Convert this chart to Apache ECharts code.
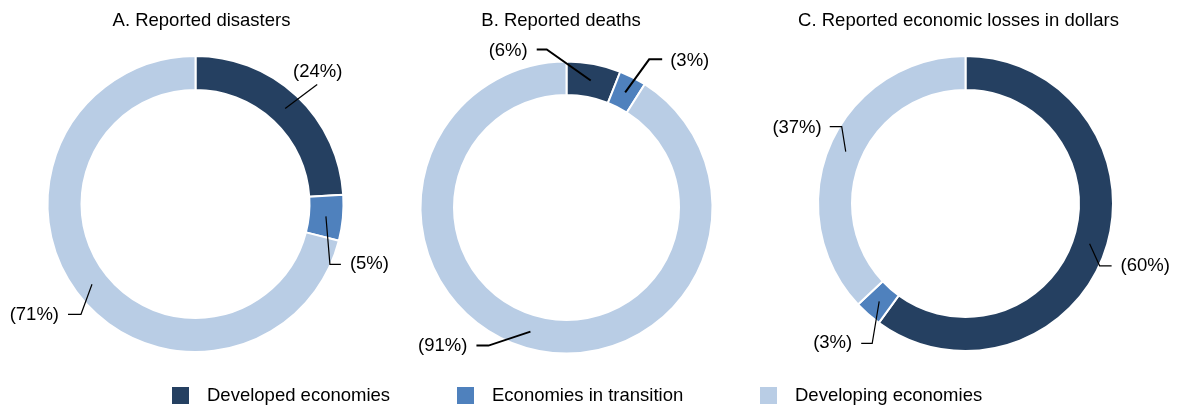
<!DOCTYPE html>
<html>
<head>
<meta charset="utf-8">
<script src="https://cdn.jsdelivr.net/npm/echarts@6/dist/echarts.min.js"></script>
<style>
html, body { margin: 0; padding: 0; background: #fff; }
#chart { width: 1177px; height: 405px; }
</style>
</head>
<body>
<div id="chart"></div>
<script>
// data (percent shares)
var categories = ['Developed economies', 'Economies in transition', 'Developing economies'];
var titles = ['A. Reported disasters', 'B. Reported deaths', 'C. Reported economic losses in dollars'];
var disasters = [24, 5, 71];
var deaths = [6, 3, 91];
var losses = [60, 3, 37];

var colors = ['#254061', '#4F81BD', '#B9CDE5'];
var font = 'Liberation Sans, Arial, sans-serif';
var fontSize = 18.5;

// label guides, relative to the anchor in the middle of the ring:
// [elbowDx, elbowDy, endDx, textDx, textDy, align]
var pies = [
	{ values: disasters, center: [195.5, 204], radius: [114, 148], titleX: 201.5, lineWidth: 1.2,
	  guides: [[32, -24, 0, 32.5, -37, 'center'], [4, 48, 11, 24, 48, 'left'], [-11, 30, -13, -33, 31, 'right']] },
	{ values: deaths, center: [566.5, 207.5], radius: [112.5, 146], titleX: 561, lineWidth: 2,
	  guides: [[-44, -31, -10, -63, -30, 'right'], [24, -33, 13, 45, -31, 'left'], [-42, 14, -12, -63, 14, 'right']] },
	{ values: losses, center: [965.5, 203.5], radius: [113.5, 147.5], titleX: 958.5, lineWidth: 1.2,
	  guides: [[10, 22, 12, 31, 22, 'left'], [-7, 42, -11, -27, 42, 'right'], [-4, -25, -12, -24, -24, 'right']] }
];

function midAnchor(values, i, cx, cy, r) {
	var total = 0, cum = 0;
	for (var k = 0; k < values.length; k++) { total += values[k]; if (k < i) cum += values[k]; }
	var a = (cum + values[i] / 2) / total * Math.PI * 2;
	return [cx + r * Math.sin(a), cy - r * Math.cos(a)];
}

function makeLayout(p) {
	return function (params) {
		var i = params.dataIndex;
		var g = p.guides[i];
		var rm = (p.radius[0] + p.radius[1]) / 2;
		var a = midAnchor(p.values, i, p.center[0], p.center[1], rm);
		var elbow = [a[0] + g[0], a[1] + g[1]];
		var end = [elbow[0] + g[2], elbow[1]];
		return {
			x: a[0] + g[3],
			y: a[1] + g[4],
			align: g[5],
			verticalAlign: 'middle',
			width: 80,
			overflow: 'none',
			labelLinePoints: [a, elbow, end]
		};
	};
}

var option = {
	animation: false,
	color: colors,
	title: [],
	legend: [],
	series: []
};

pies.forEach(function (p, n) {
	var data = categories.map(function (c, i) { return { name: c, value: p.values[i] }; });
	option.title.push({
		text: titles[n],
		left: p.titleX,
		top: 11,
		padding: 0,
		textAlign: 'center',
		textStyle: { fontFamily: font, fontSize: fontSize, fontWeight: 'normal', color: '#000' }
	});
	// the ring
	option.series.push({
		type: 'pie',
		name: titles[n],
		center: p.center,
		radius: p.radius,
		startAngle: 90,
		clockwise: true,
		silent: true,
		z: 2,
		emphasis: { disabled: true },
		itemStyle: { borderColor: '#fff', borderWidth: 2 },
		label: { show: false },
		labelLine: { show: false },
		data: data
	});
	// same shares again, invisible, only to carry the labels above the ring
	option.series.push({
		type: 'pie',
		name: titles[n] + ' labels',
		center: p.center,
		radius: p.radius,
		startAngle: 90,
		clockwise: true,
		silent: true,
		z: 5,
		avoidLabelOverlap: false,
		emphasis: { disabled: true },
		itemStyle: { color: 'rgba(0,0,0,0)', borderWidth: 0 },
		label: {
			show: true,
			position: 'outside',
			formatter: '({c}%)',
			overflow: 'none',
			fontFamily: font,
			fontSize: fontSize,
			color: '#000'
		},
		labelLine: { show: true, showAbove: true, lineStyle: { color: '#000', width: p.lineWidth } },
		labelLayout: makeLayout(p),
		data: data
	});
});

var legendLeft = [170, 455, 758];
categories.forEach(function (c, i) {
	option.legend.push({
		data: [{ name: c, itemStyle: { color: colors[i] } }],
		left: legendLeft[i],
		top: 385,
		padding: 0,
		icon: 'rect',
		itemWidth: 19,
		itemHeight: 19,
		selectedMode: false,
		textStyle: { fontFamily: font, fontSize: fontSize, color: '#000', padding: [0, 0, 0, 12] }
	});
});

var chart = echarts.init(document.getElementById('chart'));
chart.setOption(option);
</script>
</body>
</html>
